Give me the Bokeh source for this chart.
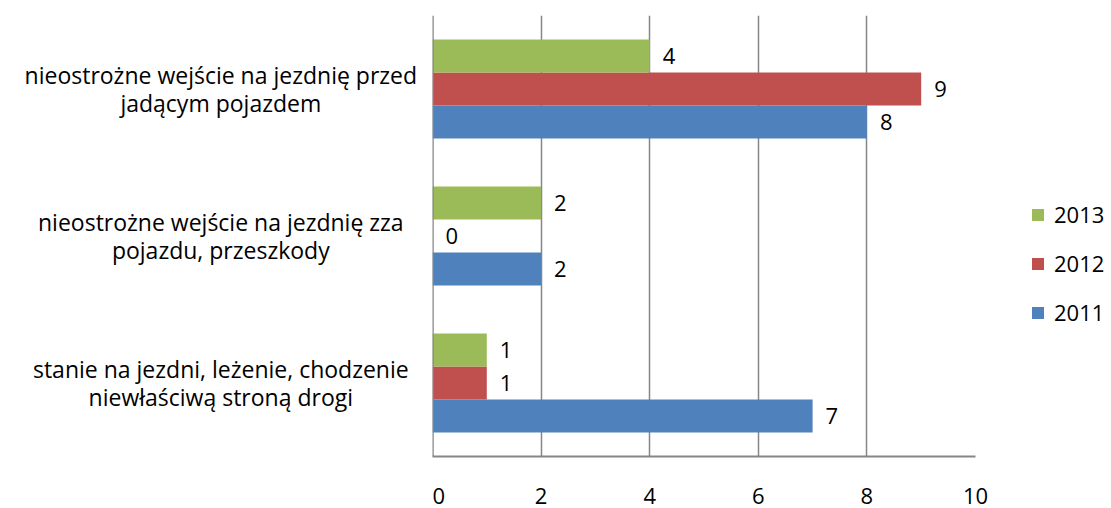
from bokeh.plotting import figure
from bokeh.layouts import row
from bokeh.models import ColumnDataSource, FactorRange, Legend, LegendItem, FixedTicker, Span
from bokeh.transform import dodge
from bokeh.core.properties import value
from bokeh.embed import file_html
from bokeh.resources import INLINE

categories = [
    "stanie na jezdni, leżenie, chodzenie\nniewłaściwą stroną drogi",
    "nieostrożne wejście na jezdnię zza\npojazdu, przeszkody",
    "nieostrożne wejście na jezdnię przed\njadącym pojazdem",
]
years = ["2011", "2012", "2013"]
v2011 = [7, 2, 8]
v2012 = [1, 0, 9]
v2013 = [1, 2, 4]
x_ticks = [0, 2, 4, 6, 8, 10]

colors = {"2011": "#4F81BD", "2012": "#C0504D", "2013": "#9BBB59"}
offsets = {"2011": -0.2245, "2012": 0.0, "2013": 0.2245}
series = {"2011": v2011, "2012": v2012, "2013": v2013}

FONT = "Open Sans"
FS = "22px"
GRID = "#868686"

yr = FactorRange(*categories)

# left panel: category labels, sharing the categorical y range
lab = figure(
    y_range=yr, x_range=(0, 1),
    frame_width=432, frame_height=441,
    output_backend="svg", toolbar_location=None,
    x_axis_location=None, y_axis_location=None,
    min_border_left=0, min_border_right=0, min_border_top=15, min_border_bottom=52,
)
lab.outline_line_color = None
lab.xgrid.grid_line_color = None
lab.ygrid.grid_line_color = None
lab_src = ColumnDataSource(dict(cat=categories, xc=[0.51] * len(categories)))
lab.text(x="xc", y="cat", text="cat", source=lab_src, text_align="center",
         text_baseline="middle", text_font=value(FONT), text_font_size="23px",
         text_color="black", text_line_height=0.9)

p = figure(
    y_range=yr, x_range=(0, 10),
    frame_width=543, frame_height=441,
    output_backend="svg", toolbar_location=None,
    y_axis_location=None,
    min_border_left=0, min_border_right=0,
    min_border_top=15, min_border_bottom=52,
)
p.outline_line_color = None

renderers = {}
for y in years:
    src = ColumnDataSource(dict(cat=categories, val=series[y], lab=[str(v) for v in series[y]]))
    r = p.hbar(y=dodge("cat", offsets[y], range=yr), right="val", left=0,
               height=0.2245, source=src, fill_color=colors[y], line_color=None)
    renderers[y] = r
    p.text(x="val", y=dodge("cat", offsets[y], range=yr), text="lab", source=src,
           x_offset=13, text_align="left", text_baseline="middle",
           text_font=value(FONT), text_font_size=FS, text_color="black")

p.xaxis.ticker = FixedTicker(ticks=x_ticks)
p.xgrid.ticker = FixedTicker(ticks=x_ticks)
p.xgrid.grid_line_color = GRID
p.xgrid.grid_line_width = 1.5
p.ygrid.grid_line_color = None

# left (category) axis line
p.add_layout(Span(location=x_ticks[0], dimension="height", line_color=GRID, line_width=2.5))

p.xaxis.axis_line_color = GRID
p.xaxis.axis_line_width = 2
p.xaxis.major_tick_line_color = None
p.xaxis.minor_tick_line_color = None
p.xaxis.major_label_text_font = FONT
p.xaxis.major_label_text_font_size = FS
p.xaxis.major_label_text_color = "black"
p.xaxis.major_label_standoff = 25

legend = Legend(
    items=[LegendItem(label=y, renderers=[renderers[y]]) for y in ["2013", "2012", "2011"]],
    location=(55, 129),
    glyph_width=15, glyph_height=15, label_standoff=9, spacing=19,
    padding=0, margin=0, border_line_color=None, background_fill_alpha=0,
    label_text_font=FONT, label_text_font_size=FS, label_text_color="black",
)
p.add_layout(legend, "right")

layout = row(lab, p, spacing=0)
open("out.html", "w").write(file_html(layout, INLINE))
